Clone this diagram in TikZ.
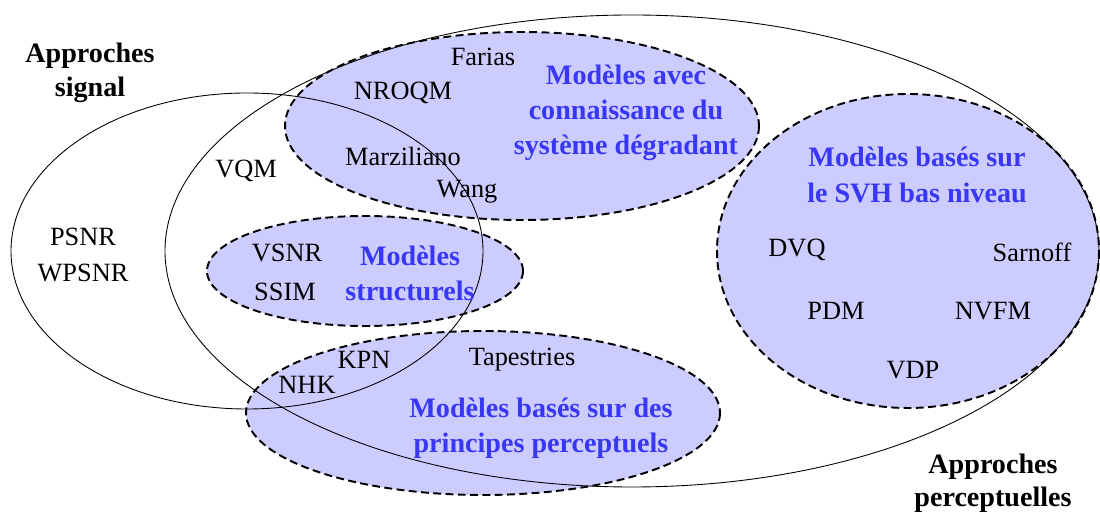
\documentclass[tikz,border=0pt]{standalone}
\usepackage{fontspec}
\setmainfont{Liberation Serif}

\definecolor{groupfill}{RGB}{204,204,255}
\definecolor{groupblue}{RGB}{55,55,245}

\newcommand*{\picw}{1100}
\newcommand*{\pich}{519}

\begin{document}
\begin{tikzpicture}
[
	x=0.02cm, y=-0.02cm,
	every node/.style={font=\fontsize{15}{20}\selectfont, align=center, inner sep=0pt},
	family/.style={draw, line width=0.5pt},
	group/.style={draw, line width=1.1pt, dash pattern=on 4.5pt off 2.5pt, fill=groupfill},
	grouptitle/.style={text=groupblue, font=\fontsize{16}{20}\selectfont\bfseries},
	settitle/.style={font=\fontsize{16}{19}\selectfont\bfseries},
]

	\useasboundingbox (0,0) rectangle (\picw,\pich);

	% groups of models
	\draw[group] (522,126) ellipse [x radius=237, y radius=94];
	\draw[group] (365,271) ellipse [x radius=158, y radius=55];
	\draw[group] (483,413) ellipse [x radius=237, y radius=82];
	\draw[group] (908,251) ellipse [x radius=191, y radius=157];

	% families of approaches
	\draw[family] (247,251) ellipse [x radius=236, y radius=158];
	\draw[family] (632,251) ellipse [x radius=467, y radius=236];

	\node[settitle] (signal) at (90,73) {Approches\\signal};
	\node[settitle] (percept) at (993,483) {Approches\\perceptuelles};

	\node[grouptitle] (degrad) at (626,113) {Modèles avec\\connaissance du\\système dégradant};
	\node[grouptitle] (struct) at (410,273) {Modèles\\structurels};
	\node[grouptitle] (svh) at (917,175) {Modèles basés sur\\le SVH bas niveau};
	\node[grouptitle] (princ) at (541,428) {Modèles basés sur des\\principes perceptuels};

	% metrics
	\node (farias) at (483,57) {Farias};
	\node (nroqm) at (403,93) {NROQM};
	\node (marz) at (403,156) {Marziliano};
	\node (wang) at (467,192) {Wang};
	\node (vqm) at (246,171) {VQM};
	\node (psnr) at (83,255) {PSNR\\WPSNR};
	\node (vsnr) at (287,253) {VSNR};
	\node (ssim) at (285,292) {SSIM};
	\node (dvq) at (797,250) {DVQ};
	\node (sarnoff) at (1032,252) {Sarnoff};
	\node (pdm) at (836,311) {PDM};
	\node (nvfm) at (993,311) {NVFM};
	\node (vdp) at (913,370) {VDP};
	\node (kpn) at (364,360) {KPN};
	\node (nhk) at (307,385) {NHK};
	\node (tapes) at (522,360) {Tapestries};

\end{tikzpicture}
\end{document}
